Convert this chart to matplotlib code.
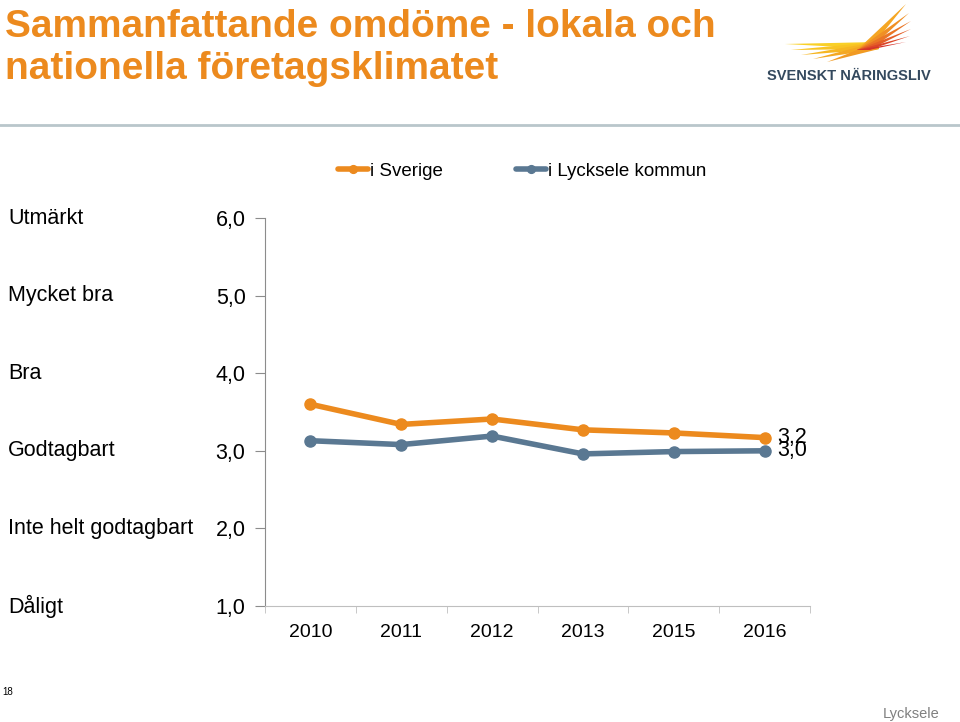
import matplotlib
import matplotlib.pyplot as plt
from matplotlib.lines import Line2D
from matplotlib.patches import Polygon
from matplotlib.transforms import blended_transform_factory
import numpy as np

matplotlib.use("Agg")

# data
years = ["2010", "2011", "2012", "2013", "2015", "2016"]
sverige = [3.6, 3.34, 3.41, 3.27, 3.23, 3.17]
lycksele = [3.13, 3.08, 3.19, 2.96, 2.99, 3.0]
level_values = [1, 2, 3, 4, 5, 6]
level_names = ["Dåligt", "Inte helt godtagbart", "Godtagbart", "Bra", "Mycket bra", "Utmärkt"]
series_names = ["i Sverige", "i Lycksele kommun"]

ORANGE = "#EC8A1E"
BLUE = "#5A7892"
W, H = 960, 722

plt.rcParams["font.family"] = ["Liberation Sans", "DejaVu Sans"]

fig = plt.figure(figsize=(W / 100, H / 100), dpi=100)


def fx(px):
    return px / W


def fy(py):
    return 1 - py / H


# title
fig.text(fx(5), fy(9), "Sammanfattande omdöme - lokala och\nnationella företagsklimatet",
         fontsize=28, fontweight="bold", color=ORANGE, va="top", ha="left",
         linespacing=1.22)

# header separator
fig.add_artist(Line2D([0, 1], [fy(125), fy(125)], color="#B9C6CB", lw=2))

# logo
logo = fig.add_axes([fx(765), fy(90), fx(180), fy(0) - fy(90)])
logo.set_xlim(0, 180)
logo.set_ylim(90, 0)
logo.axis("off")
low_tips = [(20, 44), (26, 50), (36, 55), (48, 59), (62, 62)]
low_cols = ["#F9D027", "#F8C424", "#F6B622", "#F4A822", "#F19A22"]
for (tx, ty), c in zip(low_tips, low_cols):
    logo.add_patch(Polygon([[tx, ty], [112, 42], [114, 49]], closed=True, color=c, lw=0))
up_tips = [(141, 4), (144, 13), (146, 21), (146, 29), (145, 36), (141, 42)]
up_cols = ["#F5A623", "#F08F24", "#EA7625", "#E45E27", "#DC4528", "#D5342A"]
for (tx, ty), c in zip(up_tips, up_cols):
    logo.add_patch(Polygon([[tx, ty], [92, 50], [104, 50]], closed=True, color=c, lw=0))
logo.text(2, 80, "SVENSKT NÄRINGSLIV", fontsize=10.5, fontweight="bold",
          color="#34495E", ha="left", va="baseline")

# main chart
ax = fig.add_axes([fx(265), fy(606), fx(810) - fx(265), fy(218) - fy(606)])
x = np.arange(len(years))
ax.plot(x, sverige, color=ORANGE, lw=4, marker="o", ms=8, solid_capstyle="round",
        label=series_names[0], zorder=3)
ax.plot(x, lycksele, color=BLUE, lw=4, marker="o", ms=8, solid_capstyle="round",
        label=series_names[1], zorder=3)

ax.set_xlim(-0.5, len(years) - 0.5)
ax.set_ylim(1, 6)
for s in ["top", "right"]:
    ax.spines[s].set_visible(False)
ax.spines["left"].set_color("#8C8C8C")
ax.spines["bottom"].set_color("#BFBFBF")

ax.set_yticks(level_values)
ax.set_yticklabels([f"{v:.1f}".replace(".", ",") for v in level_values], fontsize=15.5)
ax.tick_params(axis="y", length=7, color="#8C8C8C", pad=7)
ax.set_xticks(x)
ax.set_xticklabels(years, fontsize=14)
ax.tick_params(axis="x", length=0, pad=13)
ax.set_xticks(np.arange(len(years) + 1) - 0.5, minor=True)
ax.tick_params(axis="x", which="minor", length=5, color="#BFBFBF")

label_tf = blended_transform_factory(fig.transFigure, ax.transData)
for v, name in zip(level_values, level_names):
    ax.text(fx(8), v, name, transform=label_tf,
            fontsize=15.5, ha="left", va="center")

ax.text(x[-1] + 0.14, sverige[-1], f"{sverige[-1]:.1f}".replace(".", ","),
        fontsize=15.5, ha="left", va="center")
ax.text(x[-1] + 0.14, lycksele[-1], f"{lycksele[-1]:.1f}".replace(".", ","),
        fontsize=15.5, ha="left", va="center")

fig.legend(handles=ax.get_lines(), loc="center", bbox_to_anchor=(fx(522), fy(171)),
           ncol=2, frameon=False, fontsize=13.5, handlelength=1.6, handletextpad=0.1,
           columnspacing=3.9, markerscale=0.7)

# footer
fig.text(fx(2), fy(692), "18", fontsize=7, ha="left", va="center")
fig.text(fx(940), fy(714), "Lycksele", fontsize=10.5, color="#808080", ha="right", va="center")

fig.savefig("out.png", dpi=100)
